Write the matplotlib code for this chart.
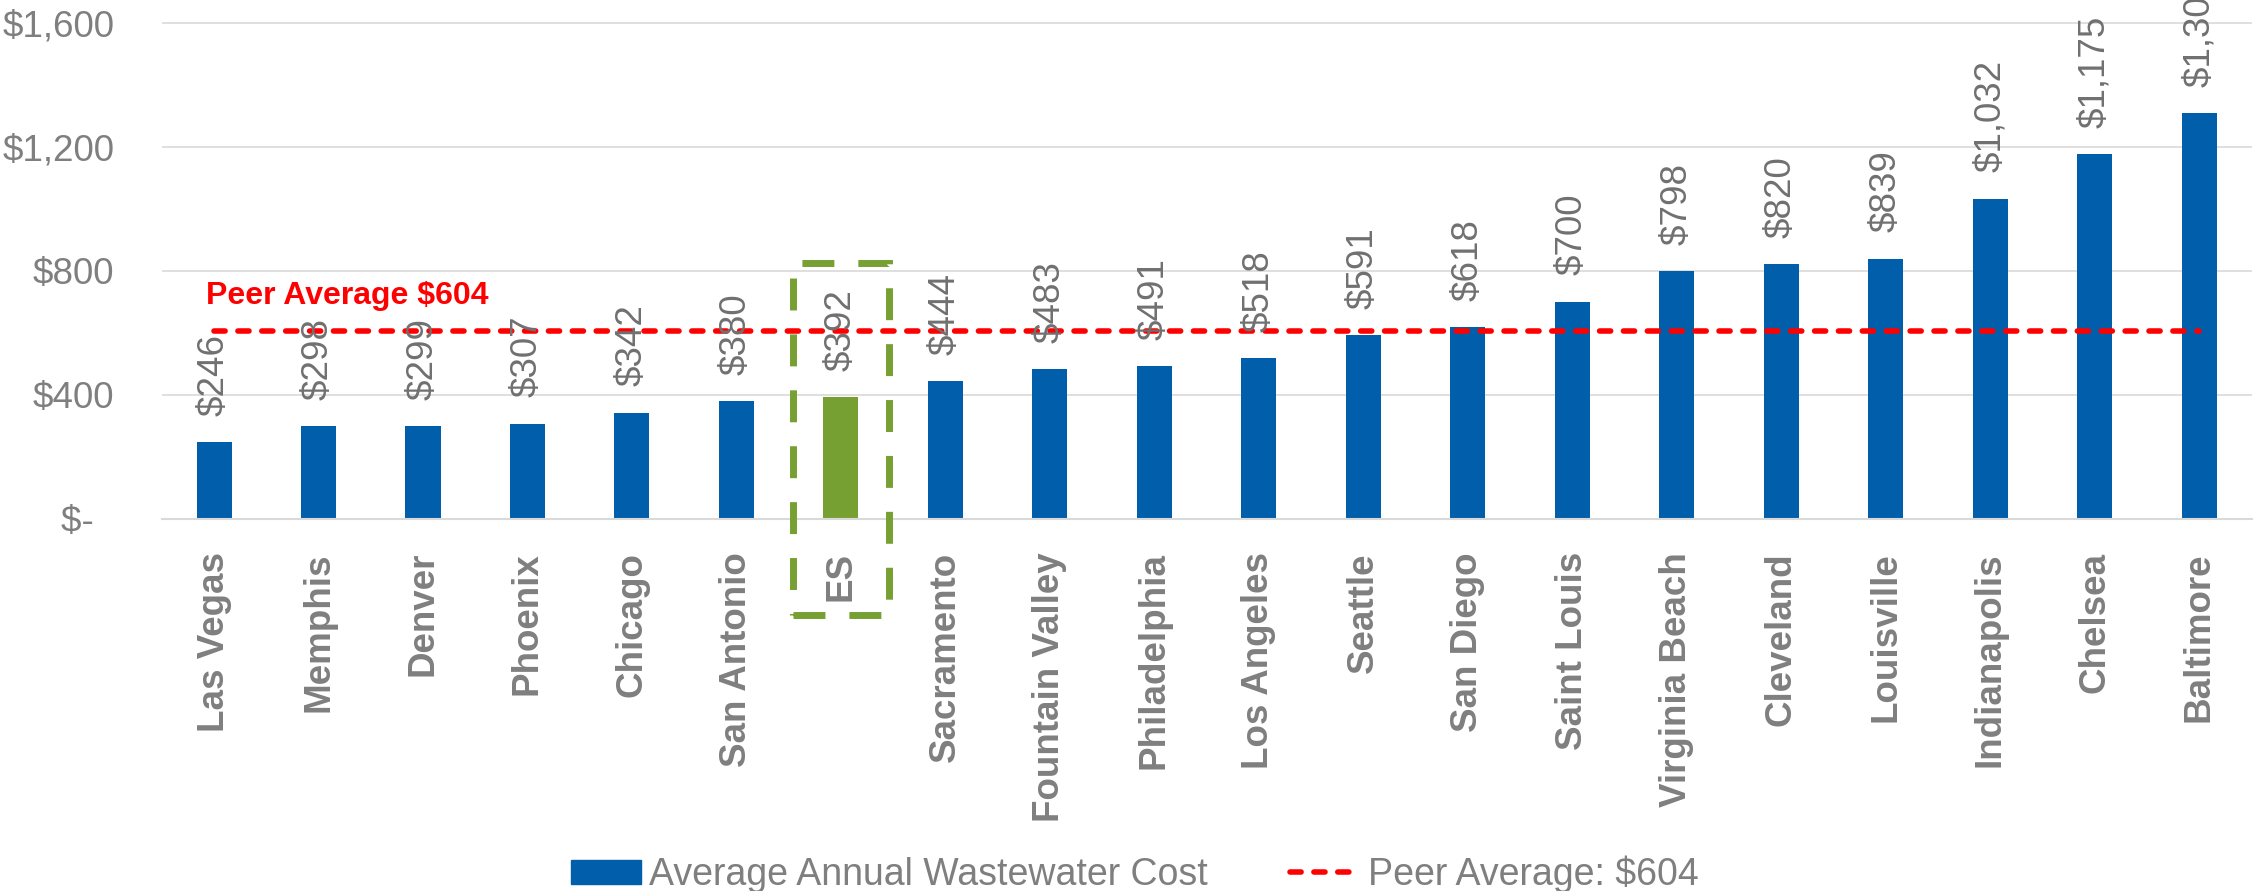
import matplotlib
matplotlib.use("Agg")
import matplotlib.pyplot as plt
import matplotlib.patches as patches

plt.rcParams['font.family'] = ['Liberation Sans', 'DejaVu Sans']

# data
cities = ['Las Vegas', 'Memphis', 'Denver', 'Phoenix', 'Chicago', 'San Antonio', 'ES',
          'Sacramento', 'Fountain Valley', 'Philadelphia', 'Los Angeles', 'Seattle',
          'San Diego', 'Saint Louis', 'Virginia Beach', 'Cleveland', 'Louisville',
          'Indianapolis', 'Chelsea', 'Baltimore']
costs = [246, 298, 299, 307, 342, 380, 392, 444, 483, 491, 518, 591, 618, 700, 798,
         820, 839, 1032, 1175, 1308]
peer_avg = 604
yticks = [0, 400, 800, 1200, 1600]
highlight = 'ES'

BLUE = '#005EAB'
GREEN = '#77A033'
GRAY = '#7F7F7F'
LABEL_GRAY = '#707070'
GRID = '#D9D9D9'
FS = 26.5

fig = plt.figure(figsize=(22.56, 8.91), dpi=100)
ax = fig.add_axes([0.0717, 0.4178, 0.9264, 0.5822])

x = list(range(len(cities)))
colors = [GREEN if c == highlight else BLUE for c in cities]
bars = ax.bar(x, costs, width=0.335, color=colors, zorder=2)

# peer average drawn as a line series across the categories
line, = ax.plot([x[0], x[-1]], [peer_avg, peer_avg], color='#FF0000', lw=4,
                dashes=(2.0, 2.3), dash_capstyle='round', zorder=3)

for xi, v in zip(x, costs):
    ax.annotate('${:,}'.format(v), (xi, v), xytext=(0, 19), textcoords='offset points',
                rotation=90, ha='center', va='bottom', fontsize=FS, color=LABEL_GRAY,
                zorder=5, annotation_clip=False)

ax.text(-0.08, 692, 'Peer Average ${:,}'.format(peer_avg), color='#FF0000',
        fontsize=23, fontweight='bold', ha='left', va='baseline')

# dashed box around the highlighted city
hi = cities.index(highlight)
box = patches.Rectangle((hi - 0.46, -311), 0.92, 1137, fill=False, edgecolor=GREEN,
                        lw=5, linestyle=(0, (4.6, 3.45)), clip_on=False, zorder=4)
ax.add_patch(box)

ax.set_xlim(-0.5, len(cities) - 0.5)
ax.set_ylim(0, 1673)
ax.set_yticks(yticks)
ax.set_yticklabels(['$-  ' if t == 0 else '${:,}'.format(t) for t in yticks])
ax.set_xticks(x)
ax.set_xticklabels(cities, rotation=90, fontweight='bold')
ax.tick_params(axis='x', length=0, pad=24, labelsize=FS, labelcolor=GRAY)
ax.tick_params(axis='y', length=0, pad=34, labelsize=FS, labelcolor=GRAY)
ax.grid(axis='y', color=GRID, lw=1.2, zorder=0)
ax.set_axisbelow(True)
for s in ['top', 'right', 'left']:
    ax.spines[s].set_visible(False)
ax.spines['bottom'].set_color(GRID)
ax.spines['bottom'].set_linewidth(1.5)

blue_patch = patches.Patch(color=BLUE)
leg = fig.legend([blue_patch, line],
                 ['Average Annual Wastewater Cost', 'Peer Average: ${:,}'.format(peer_avg)],
                 loc='center', bbox_to_anchor=(0.503, 0.019), ncol=2, frameon=False,
                 fontsize=27, handlelength=1.85, handleheight=0.6, handletextpad=0.22,
                 columnspacing=2.2, borderpad=0, borderaxespad=0)
for t in leg.get_texts():
    t.set_color(GRAY)

fig.savefig('out.png', dpi=100)
